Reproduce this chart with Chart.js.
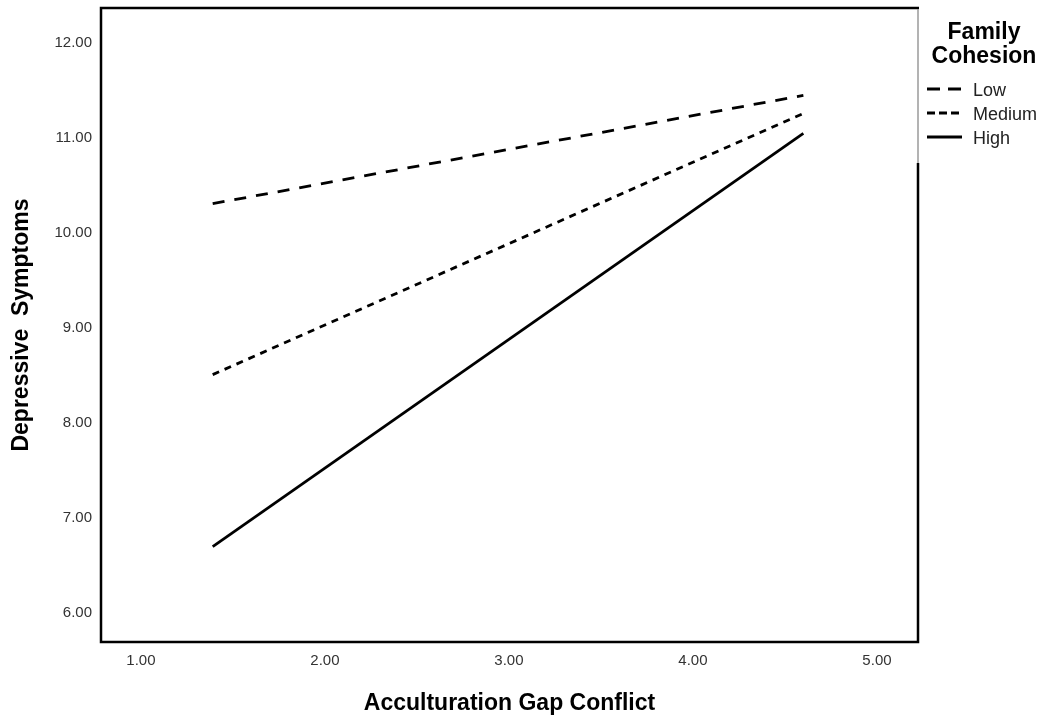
<!DOCTYPE html>
<html>
<head>
<meta charset="utf-8">
<script src="https://cdn.jsdelivr.net/npm/chart.js@4"></script>
<style>
  html, body { margin: 0; padding: 0; background: #fff; }
  canvas { display: block; }
</style>
</head>
<body>
<canvas id="c" width="1046" height="721"></canvas>
<script>
// ---- data ----
const xValues = [1.39, 4.60];
const lowValues = [10.31, 11.45];
const mediumValues = [8.51, 11.26];
const highValues = [6.70, 11.05];
const seriesNames = ['Low', 'Medium', 'High'];
const xTicks = [1, 2, 3, 4, 5];
const yTicks = [6, 7, 8, 9, 10, 11, 12];
const legendTitle = ['Family', 'Cohesion'];
const xTitle = 'Acculturation Gap Conflict';
const yTitle = 'Depressive  Symptoms';

const FONT = '"Liberation Sans", Arial, sans-serif';

function pts(vals) { return xValues.map((x, i) => ({ x: x, y: vals[i] })); }

const styles = [
  { dash: [12, 10], legendDash: [13, 8] },
  { dash: [7, 6], legendDash: [8, 4] },
  { dash: [], legendDash: [] }
];

const datasets = [lowValues, mediumValues, highValues].map((vals, i) => ({
  label: seriesNames[i],
  data: pts(vals),
  showLine: true,
  borderColor: '#000',
  borderWidth: 2.8,
  borderDash: styles[i].dash,
  borderCapStyle: 'butt',
  pointRadius: 0,
  fill: false,
  tension: 0
}));

const framePlugin = {
  id: 'frame',
  afterDatasetsDraw(chart) {
    const { ctx, chartArea: a } = chart;
    ctx.save();
    ctx.strokeStyle = '#000';
    ctx.lineWidth = 2.5;
    ctx.beginPath();
    ctx.moveTo(a.right, 163);
    ctx.lineTo(a.right, a.bottom);
    ctx.lineTo(a.left, a.bottom);
    ctx.lineTo(a.left, a.top);
    ctx.lineTo(a.right + 1, a.top);
    ctx.stroke();
    ctx.strokeStyle = '#9a9a9a';
    ctx.lineWidth = 1.5;
    ctx.beginPath();
    ctx.moveTo(a.right, a.top + 1);
    ctx.lineTo(a.right, 163);
    ctx.stroke();

    // legend
    ctx.fillStyle = '#000';
    ctx.textAlign = 'center';
    ctx.textBaseline = 'alphabetic';
    ctx.font = 'bold 23px ' + FONT;
    ctx.fillText(legendTitle[0], 984, 39);
    ctx.fillText(legendTitle[1], 984, 63);
    ctx.font = '18px ' + FONT;
    ctx.textAlign = 'left';
    ctx.textBaseline = 'middle';
    chart.data.datasets.forEach((ds, i) => {
      const y = 90 + i * 24;
      ctx.strokeStyle = '#000';
      ctx.lineWidth = 2.8;
      ctx.setLineDash(styles[i].legendDash);
      ctx.beginPath();
      ctx.moveTo(927, y - 1);
      ctx.lineTo(962, y - 1);
      ctx.stroke();
      ctx.setLineDash([]);
      ctx.fillStyle = '#222';
      ctx.fillText(ds.label, 973, y + 1);
    });
    ctx.restore();
  }
};

new Chart(document.getElementById('c'), {
  type: 'scatter',
  data: { datasets: datasets },
  options: {
    responsive: false,
    animation: false,
    devicePixelRatio: 1,
    layout: { padding: { top: 8, right: 128, left: 0, bottom: 0 } },
    plugins: { legend: { display: false }, tooltip: { enabled: false } },
    scales: {
      x: {
        type: 'linear',
        min: 0.783,
        max: 5.223,
        afterBuildTicks: s => { s.ticks = xTicks.map(v => ({ value: v })); },
        afterFit: s => { s.height = 79; s.paddingLeft = 0; s.paddingRight = 0; },
        grid: { display: false, drawTicks: false },
        border: { display: false },
        ticks: {
          padding: 10,
          color: '#333',
          font: { family: FONT, size: 15 },
          maxRotation: 0,
          callback: v => Number(v).toFixed(2)
        },
        title: {
          display: true,
          text: xTitle,
          color: '#000',
          font: { family: FONT, size: 23, weight: 'bold' },
          padding: { top: 0, bottom: 4 }
        }
      },
      y: {
        type: 'linear',
        min: 5.695,
        max: 12.37,
        afterBuildTicks: s => { s.ticks = yTicks.map(v => ({ value: v })); },
        afterFit: s => { s.width = 101; s.paddingTop = 0; s.paddingBottom = 0; },
        grid: { display: false, drawTicks: false },
        border: { display: false },
        ticks: {
          padding: 9,
          color: '#333',
          font: { family: FONT, size: 15 },
          callback: v => Number(v).toFixed(2)
        },
        title: {
          display: true,
          text: yTitle,
          color: '#000',
          font: { family: FONT, size: 23, weight: 'bold' },
          padding: { top: 8, bottom: 0 }
        }
      }
    }
  },
  plugins: [framePlugin]
});
</script>
</body>
</html>
